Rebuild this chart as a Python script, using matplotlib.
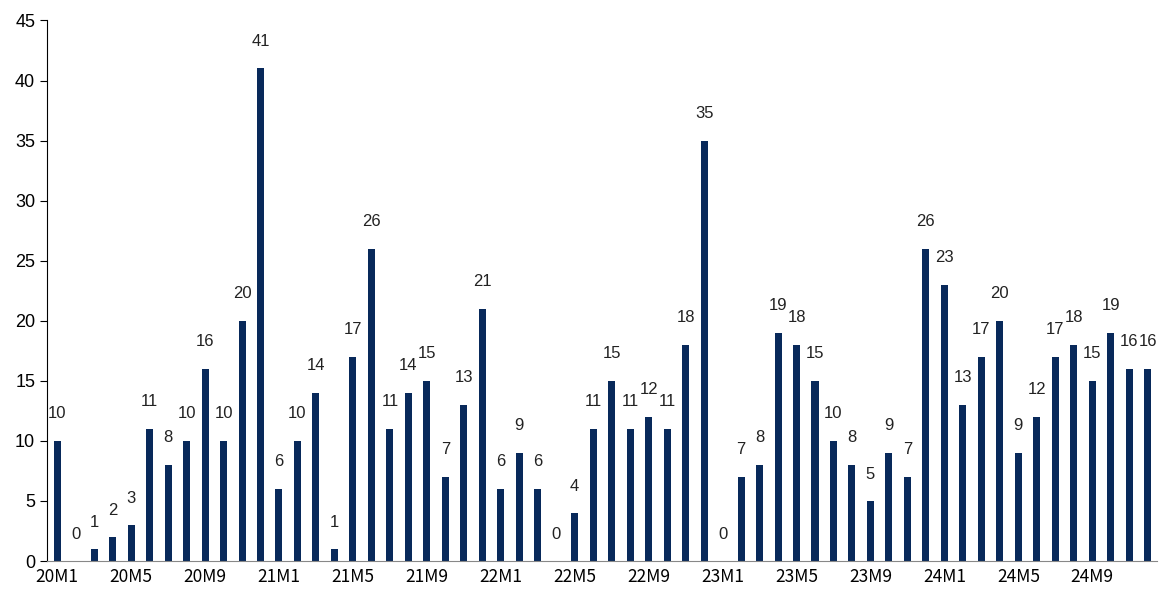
import numpy as np
import matplotlib.pyplot as plt

plt.rcParams['font.family'] = ['Liberation Sans', 'DejaVu Sans']

# monthly counts, 2020-01 .. 2024-12
months = [f"{y}M{m}" for y in range(20, 25) for m in range(1, 13)]
values = [10, 0, 1, 2, 3, 11, 8, 10, 16, 10, 20, 41,
          6, 10, 14, 1, 17, 26, 11, 14, 15, 7, 13, 21,
          6, 9, 6, 0, 4, 11, 15, 11, 12, 11, 18, 35,
          0, 7, 8, 19, 18, 15, 10, 8, 5, 9, 7, 26,
          23, 13, 17, 20, 9, 12, 17, 18, 15, 19, 16, 16]
tick_every = 4

x = np.arange(len(months))

fig = plt.figure(figsize=(11.61, 5.96), dpi=100)
ax = fig.add_axes([0.0405, 0.0587, 0.956, 0.907])

ax.bar(x, values, width=0.38, color='#08295a')

for xi, v in zip(x, values):
    ax.annotate(str(v), (xi, v), xytext=(0, 14), textcoords='offset points',
                ha='center', va='bottom', fontsize=12, color='#222222')

ax.set_xlim(-0.55, len(months) - 0.5)
ax.set_ylim(0, 45)
ax.set_yticks(range(0, 46, 5))
ax.set_xticks(x[::tick_every])
ax.set_xticklabels(months[::tick_every], fontsize=12.5,
                   family=['Noto Sans CJK SC', 'DejaVu Sans'])

ax.spines['top'].set_visible(False)
ax.spines['right'].set_visible(False)
ax.spines['bottom'].set_color('#888888')
ax.tick_params(axis='x', length=0, pad=5)
ax.tick_params(axis='y', labelsize=13, direction='out', length=5)

fig.savefig('out.png', dpi=100)
